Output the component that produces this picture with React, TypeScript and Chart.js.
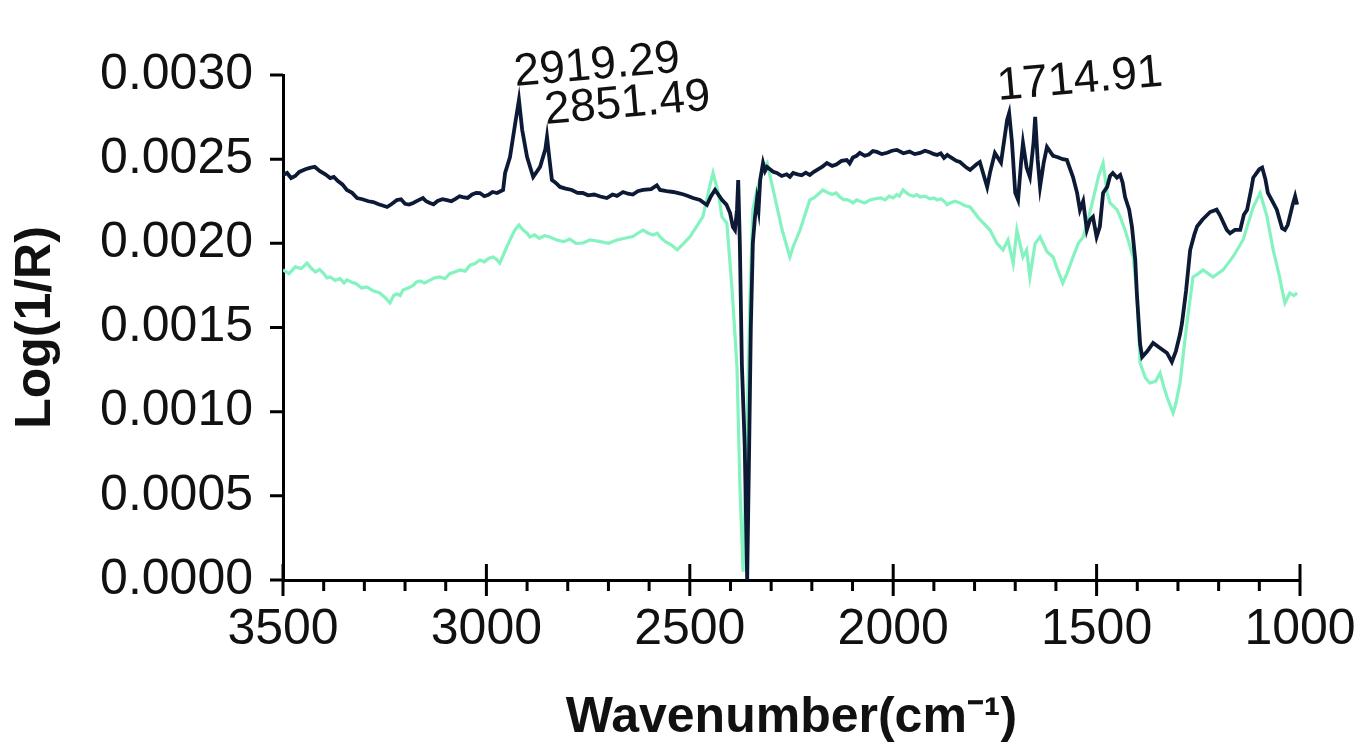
import React, { useEffect, useRef } from "react";
import { Chart, registerables } from "chart.js";

Chart.register(...registerables);

// Dark (navy) spectrum
const darkWavenumbers = [
  3500, 3490, 3480, 3470, 3460, 3445, 3434, 3422, 3410, 3396,
  3384, 3375, 3365, 3354, 3343, 3330, 3318, 3305, 3290, 3278,
  3265, 3255, 3244, 3232, 3220, 3210, 3200, 3190, 3180, 3168,
  3156, 3148, 3139, 3130, 3120, 3108, 3097, 3086, 3075, 3066,
  3058, 3046, 3035, 3025, 3016, 3005, 2995, 2985, 2974, 2959,
  2954, 2942, 2930, 2920, 2912, 2900, 2885, 2868, 2855, 2851,
  2845, 2839, 2830, 2819, 2805, 2790, 2776, 2763, 2750, 2735,
  2720, 2704, 2690, 2679, 2664, 2652, 2640, 2628, 2615, 2595,
  2581, 2573, 2557, 2541, 2528, 2515, 2503, 2492, 2475, 2465,
  2458, 2448, 2438, 2430, 2421, 2410, 2401, 2394, 2389, 2384,
  2381, 2377, 2372, 2365, 2359, 2354, 2350, 2345, 2340, 2335,
  2331, 2327, 2320, 2315, 2310, 2303, 2295, 2286, 2274, 2262,
  2254, 2246, 2235, 2225, 2215, 2205, 2195, 2185, 2174, 2163,
  2150, 2140, 2127, 2114, 2107, 2099, 2090, 2082, 2070, 2060,
  2050, 2040, 2028, 2015, 2003, 1991, 1975, 1960, 1947, 1934,
  1922, 1910, 1900, 1892, 1883, 1875, 1867, 1860, 1845, 1836,
  1820, 1811, 1795, 1787, 1769, 1762, 1750, 1735, 1720, 1715,
  1708, 1700, 1693, 1685, 1681, 1672, 1664, 1655, 1651, 1645,
  1639, 1630, 1622, 1607, 1597, 1583, 1573, 1558, 1548, 1541,
  1533, 1524, 1516, 1509, 1500, 1492, 1484, 1474, 1467, 1460,
  1450, 1442, 1436, 1430, 1420, 1413, 1405, 1401, 1393, 1388,
  1375, 1361, 1345, 1327, 1315, 1305, 1295, 1290, 1280, 1270,
  1260, 1253, 1240, 1221, 1205, 1197, 1180, 1172, 1160, 1147,
  1138, 1130, 1120, 1115, 1100, 1093, 1085, 1079, 1070, 1057,
  1050, 1044, 1037, 1030, 1025, 1018, 1012, 1007,
];
const darkValues = [
  0.002406, 0.002418, 0.002388, 0.0024, 0.002424, 0.00244, 0.002448, 0.002455, 0.00243, 0.00241,
  0.002388, 0.002395, 0.00237, 0.00235, 0.002317, 0.0023, 0.002269, 0.002262, 0.00225, 0.002245,
  0.002232, 0.002225, 0.002216, 0.002235, 0.002257, 0.002262, 0.002235, 0.00223, 0.00224, 0.002255,
  0.002269, 0.00225, 0.00224, 0.002232, 0.002252, 0.002262, 0.002257, 0.00225, 0.002266, 0.00228,
  0.002275, 0.00227, 0.00229, 0.0023, 0.002299, 0.00228, 0.002288, 0.002305, 0.002299, 0.002317,
  0.002418, 0.002513, 0.0027, 0.002852, 0.002673, 0.002513, 0.002394, 0.002454, 0.00256, 0.002632,
  0.0025, 0.002376, 0.00236, 0.002335, 0.002325, 0.002317, 0.0023, 0.002299, 0.002285, 0.00229,
  0.002278, 0.002269, 0.00229, 0.002282, 0.002305, 0.002295, 0.00229, 0.00231, 0.002317, 0.002322,
  0.002345, 0.002317, 0.00231, 0.002305, 0.002298, 0.00229, 0.00228, 0.002269, 0.002258, 0.00224,
  0.002228, 0.00228, 0.002317, 0.00229, 0.002258, 0.00223, 0.00218, 0.002097, 0.002079, 0.0022,
  0.002376, 0.002, 0.00128, 0.0008, 0.0, 0.0008, 0.0015, 0.002002, 0.00215, 0.002258,
  0.0022, 0.002376, 0.002477, 0.00243, 0.002454, 0.00244, 0.002425, 0.002418, 0.0024, 0.00241,
  0.002395, 0.002418, 0.00241, 0.002404, 0.00242, 0.002406, 0.002425, 0.00244, 0.002455, 0.002477,
  0.00246, 0.002468, 0.00249, 0.002495, 0.002475, 0.00251, 0.00252, 0.002537, 0.00252, 0.002528,
  0.002548, 0.002543, 0.00253, 0.002538, 0.00255, 0.002555, 0.002535, 0.002545, 0.00253, 0.002537,
  0.00255, 0.002541, 0.00253, 0.002525, 0.002535, 0.002508, 0.002525, 0.002513, 0.00249, 0.002483,
  0.00245, 0.002436, 0.00247, 0.002483, 0.002335, 0.00242, 0.002537, 0.00248, 0.002733, 0.002774,
  0.0026, 0.0023, 0.002258, 0.0025, 0.002596, 0.00245, 0.002394, 0.0026, 0.002751, 0.0025,
  0.002335, 0.00248, 0.002572, 0.00252, 0.002513, 0.0025, 0.002495, 0.002394, 0.0023, 0.002198,
  0.00225, 0.002079, 0.00214, 0.002157, 0.002038, 0.0021, 0.0023, 0.002335, 0.0024, 0.002418,
  0.00239, 0.002406, 0.00236, 0.002275, 0.0022, 0.002097, 0.001901, 0.0017, 0.0014, 0.001325,
  0.00136, 0.001408, 0.00138, 0.001349, 0.001295, 0.00136, 0.00146, 0.001527, 0.00172, 0.00196,
  0.00205, 0.0021, 0.00214, 0.002186, 0.0022, 0.002168, 0.00208, 0.00206, 0.00208, 0.00208,
  0.00217, 0.0022, 0.00232, 0.00239, 0.00244, 0.00245, 0.00238, 0.0023, 0.00226, 0.0022,
  0.00214, 0.00209, 0.00208, 0.00211, 0.00216, 0.00223, 0.00228, 0.00223,
];

// Light green spectrum
const greenWavenumbers = [
  3500, 3485, 3470, 3455, 3441, 3430, 3420, 3410, 3400, 3392,
  3384, 3372, 3360, 3350, 3343, 3332, 3320, 3307, 3294, 3280,
  3262, 3250, 3237, 3228, 3220, 3212, 3205, 3192, 3180, 3172,
  3163, 3152, 3140, 3127, 3114, 3102, 3090, 3078, 3065, 3052,
  3040, 3028, 3016, 3005, 2995, 2984, 2975, 2967, 2955, 2942,
  2930, 2920, 2910, 2900, 2893, 2882, 2870, 2857, 2844, 2827,
  2810, 2795, 2780, 2763, 2745, 2720, 2700, 2679, 2660, 2640,
  2628, 2615, 2602, 2590, 2580, 2573, 2560, 2545, 2531, 2515,
  2500, 2468, 2450, 2443, 2430, 2421, 2409, 2396, 2384, 2377,
  2369, 2360, 2352, 2345, 2335, 2320, 2310, 2295, 2273, 2254,
  2246, 2229, 2205, 2195, 2185, 2173, 2160, 2150, 2140, 2131,
  2122, 2114, 2105, 2099, 2090, 2082, 2070, 2057, 2045, 2030,
  2020, 2010, 2000, 1991, 1985, 1976, 1962, 1950, 1942, 1934,
  1922, 1910, 1900, 1892, 1883, 1875, 1867, 1860, 1848, 1836,
  1825, 1811, 1790, 1762, 1745, 1730, 1718, 1705, 1696, 1681,
  1672, 1664, 1651, 1639, 1622, 1607, 1597, 1583, 1573, 1558,
  1545, 1533, 1520, 1509, 1495, 1484, 1474, 1467, 1450, 1442,
  1430, 1410, 1401, 1393, 1380, 1369, 1355, 1344, 1335, 1327,
  1312, 1305, 1295, 1278, 1263, 1250, 1238, 1214, 1189, 1165,
  1140, 1115, 1098, 1081, 1066, 1050, 1044, 1037, 1025, 1015,
  1007,
];
const greenValues = [
  0.001842, 0.00182, 0.00186, 0.00185, 0.001883, 0.00185, 0.00183, 0.001845, 0.00182, 0.001795,
  0.0018, 0.00178, 0.00179, 0.001765, 0.001782, 0.00177, 0.00176, 0.001735, 0.001741, 0.00172,
  0.001705, 0.00168, 0.001646, 0.00169, 0.0017, 0.00169, 0.001723, 0.001735, 0.00175, 0.00177,
  0.001776, 0.001765, 0.00178, 0.001795, 0.0018, 0.00179, 0.00182, 0.00183, 0.001842, 0.001835,
  0.00187, 0.00188, 0.001901, 0.00189, 0.00191, 0.001919, 0.001905, 0.001883, 0.00195, 0.00202,
  0.00208, 0.002109, 0.00208, 0.00206, 0.002038, 0.00205, 0.00203, 0.002045, 0.002038, 0.00202,
  0.00201, 0.002025, 0.002, 0.002002, 0.00202, 0.00201, 0.002, 0.00202, 0.00203, 0.00204,
  0.00206, 0.002079, 0.00206, 0.00205, 0.00206, 0.002038, 0.00201, 0.00199, 0.001961, 0.002,
  0.002038, 0.002157, 0.00235, 0.002418, 0.0023, 0.002157, 0.002121, 0.001723, 0.001265, 0.000576,
  0.00005, 0.0008, 0.0017, 0.0022, 0.002317, 0.00244, 0.002477, 0.002317, 0.002079, 0.001919,
  0.00198, 0.002079, 0.002258, 0.00227, 0.00229, 0.002317, 0.0023, 0.00229, 0.0023, 0.002275,
  0.00226, 0.00226, 0.00225, 0.00224, 0.002258, 0.00225, 0.00224, 0.002258, 0.002265, 0.00227,
  0.002258, 0.00228, 0.00227, 0.00229, 0.00228, 0.002317, 0.00229, 0.00228, 0.00229, 0.002275,
  0.00228, 0.002265, 0.00227, 0.002258, 0.002265, 0.00225, 0.00223, 0.00224, 0.00225, 0.00224,
  0.002225, 0.002216, 0.00215, 0.002079, 0.002, 0.001961, 0.00202, 0.00188, 0.002079, 0.001919,
  0.00196, 0.0018, 0.002, 0.002038, 0.00195, 0.001919, 0.00185, 0.001764, 0.00182, 0.001919,
  0.002, 0.002038, 0.00215, 0.002258, 0.0024, 0.002477, 0.0023, 0.00224, 0.0022, 0.002157,
  0.002079, 0.001919, 0.0017, 0.001289, 0.0012, 0.00117, 0.00118, 0.00123, 0.00115, 0.001087,
  0.000992, 0.00105, 0.00117, 0.001527, 0.0018, 0.00182, 0.001842, 0.0018, 0.001842, 0.001919,
  0.00202, 0.002216, 0.002299, 0.002157, 0.001961, 0.0018, 0.001723, 0.001646, 0.001705, 0.00169,
  0.001705,
];

const xMajorTicks = [3500, 3000, 2500, 2000, 1500, 1000];
const xMinorTicks = [
  3400, 3300, 3200, 3100, 2900, 2800, 2700, 2600, 2400, 2300, 2200, 2100,
  1900, 1800, 1700, 1600, 1400, 1300, 1200, 1100,
];
const yTicks = [0, 0.0005, 0.001, 0.0015, 0.002, 0.0025, 0.003];

const peakLabels = ["2919.29", "2851.49", "1714.91"];
const peakPositions = [2919.29, 2851.49, 1714.91];
const peakValues = [0.002852, 0.002632, 0.002774];

const FONT = '"Liberation Sans", Arial, Helvetica, sans-serif';

const axisDecor = {
  id: "axisDecor",
  afterDraw(chart: any) {
    const { ctx, chartArea, scales } = chart;
    const xs = scales.x;
    const ys = scales.y;
    ctx.save();
    ctx.strokeStyle = "#000";
    ctx.lineWidth = 3;
    ctx.beginPath();
    const yb = chartArea.bottom;
    xMinorTicks.forEach((v) => {
      const px = xs.getPixelForValue(v);
      ctx.moveTo(px, yb);
      ctx.lineTo(px, yb + 11);
    });
    xMajorTicks.forEach((v) => {
      const px = xs.getPixelForValue(v);
      ctx.moveTo(px, yb - 16);
      ctx.lineTo(px, yb + 16);
    });
    yTicks.forEach((v) => {
      const py = ys.getPixelForValue(v);
      ctx.moveTo(chartArea.left - 13, py);
      ctx.lineTo(chartArea.left, py);
    });
    ctx.stroke();

    const dxs = [-4, -1, -11];
    const dys = [14, 13, 13];
    ctx.fillStyle = "#111";
    ctx.font = `46px ${FONT}`;
    ctx.textAlign = "left";
    ctx.textBaseline = "alphabetic";
    peakLabels.forEach((t, i) => {
      const px = xs.getPixelForValue(peakPositions[i]);
      const py = ys.getPixelForValue(peakValues[i]);
      ctx.save();
      ctx.translate(px + dxs[i], py - dys[i]);
      ctx.rotate((-5 * Math.PI) / 180);
      ctx.fillText(t, 0, 0);
      ctx.restore();
    });
    ctx.restore();
  },
};

export default function App() {
  const canvasRef = useRef<HTMLCanvasElement | null>(null);

  useEffect(() => {
    const canvas = canvasRef.current;
    if (!canvas) return;
    const chart = new Chart(canvas, {
      type: "line",
      data: {
        datasets: [
          {
            label: "dark",
            data: darkWavenumbers.map((w, i) => ({ x: w, y: darkValues[i] })),
            borderColor: "#0c1a36",
            borderWidth: 3.8,
            pointRadius: 0,
            tension: 0,
            fill: false,
          },
          {
            label: "green",
            data: greenWavenumbers.map((w, i) => ({ x: w, y: greenValues[i] })),
            borderColor: "#84f3bf",
            borderWidth: 3.2,
            pointRadius: 0,
            tension: 0,
            fill: false,
          },
        ],
      },
      options: {
        animation: false,
        responsive: false,
        devicePixelRatio: 1,
        layout: { padding: { left: 0, right: 63, top: 75, bottom: 0 } },
        plugins: {
          legend: { display: false },
          tooltip: { enabled: false },
        },
        scales: {
          x: {
            type: "linear",
            reverse: true,
            min: 1000,
            max: 3500,
            grid: { display: false, drawTicks: false },
            border: { display: true, color: "#000", width: 3 },
            ticks: {
              stepSize: 500,
              padding: 20,
              color: "#111",
              autoSkip: false,
              maxRotation: 0,
              font: { family: FONT, size: 50 },
              callback: (v: any) => String(v),
            },
            title: {
              display: true,
              text: "Wavenumber(cm⁻¹)",
              color: "#111",
              font: { family: FONT, size: 50, weight: "bold" },
              padding: { top: 0, bottom: 5 },
            },
            afterFit: (s: any) => {
              s.height = 173;
              s.paddingLeft = 0;
              s.paddingRight = 0;
            },
          },
          y: {
            type: "linear",
            min: 0,
            max: 0.003,
            grid: { display: false, drawTicks: false },
            border: { display: true, color: "#000", width: 3 },
            ticks: {
              stepSize: 0.0005,
              padding: 30,
              color: "#111",
              font: { family: FONT, size: 50 },
              callback: (v: any) => Number(v).toFixed(4),
            },
            title: {
              display: true,
              text: "Log(1/R)",
              color: "#111",
              font: { family: FONT, size: 50, weight: "bold" },
              padding: { top: 6, bottom: 0 },
            },
            afterFit: (s: any) => {
              s.width = 283;
              s.paddingTop = 0;
              s.paddingBottom = 0;
            },
          },
        },
      },
      plugins: [axisDecor],
    } as any);
    return () => chart.destroy();
  }, []);

  return (
    <div style={{ position: "absolute", left: 0, top: 0, width: 1363, height: 753, background: "#fff" }}>
      <canvas ref={canvasRef} width={1363} height={753} style={{ display: "block" }} />
    </div>
  );
}
